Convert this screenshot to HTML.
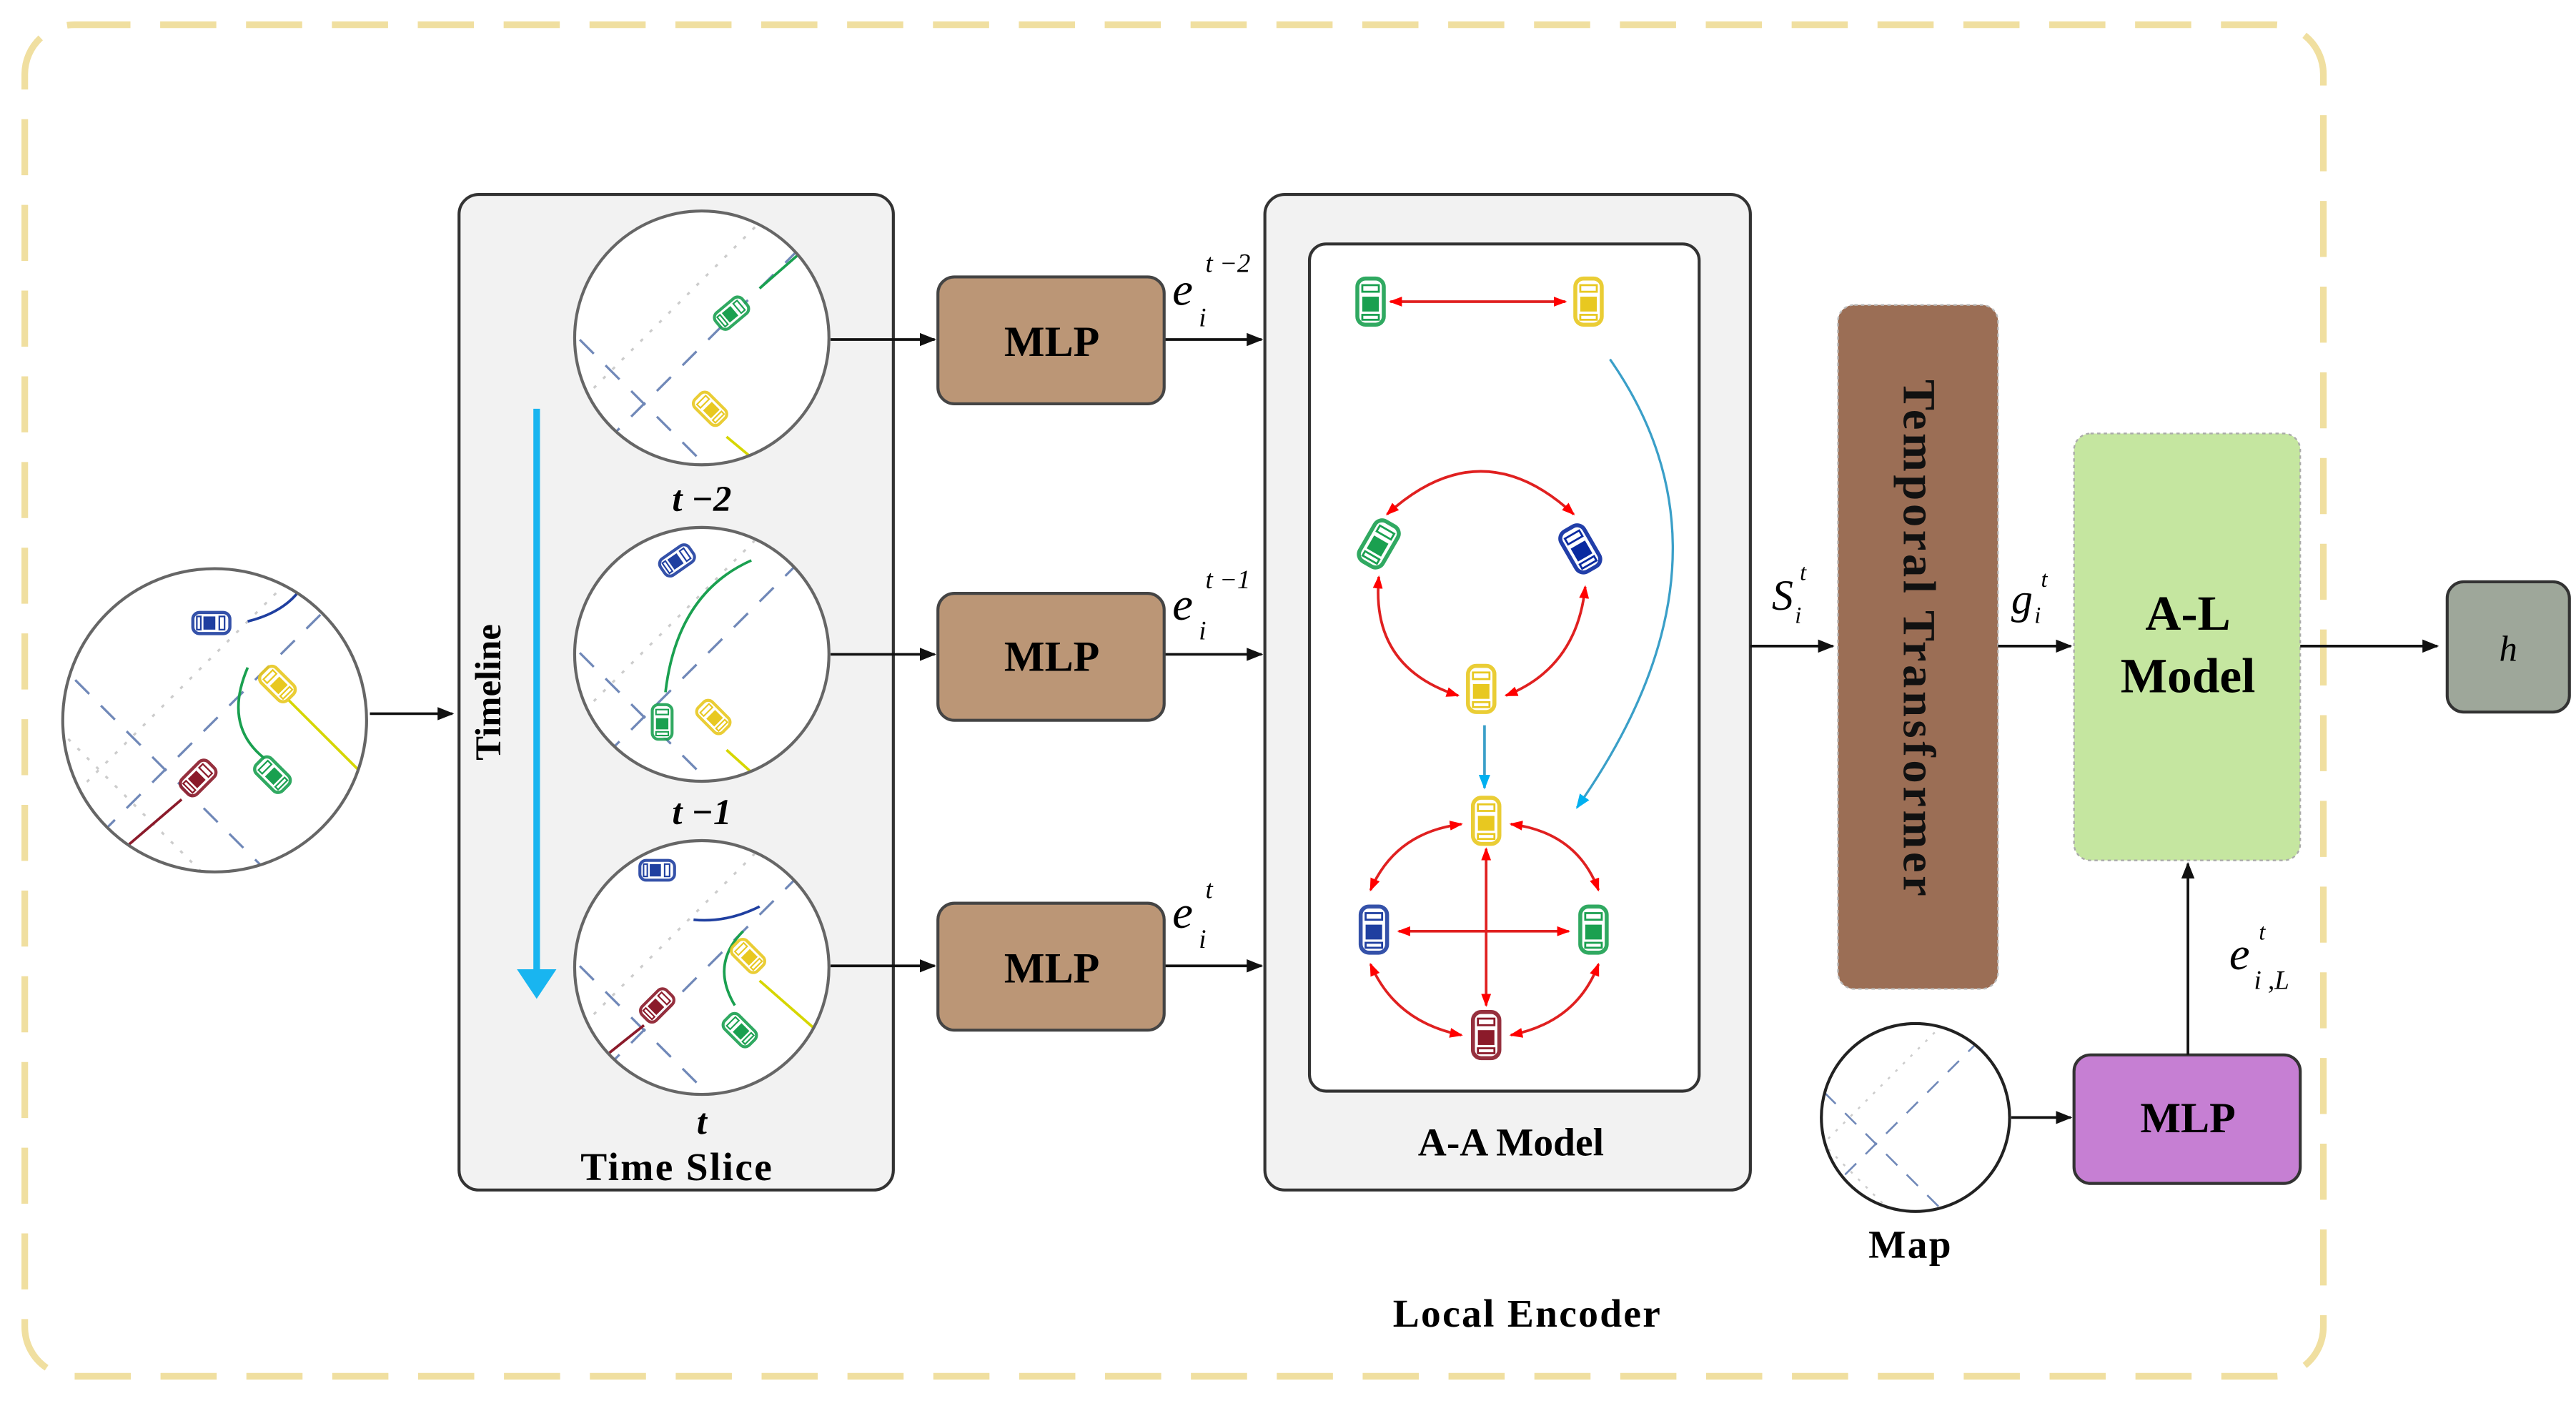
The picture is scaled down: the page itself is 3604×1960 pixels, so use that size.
<!DOCTYPE html>
<html><head><meta charset="utf-8"><style>
html,body{margin:0;padding:0;background:#fff}
svg{display:block}
text{font-family:"Liberation Serif",serif}
</style></head><body>
<svg width="3604" height="1960" viewBox="0 0 1560 850" preserveAspectRatio="none" xmlns="http://www.w3.org/2000/svg">
<defs>
<marker id="ab" markerWidth="10" markerHeight="8" refX="9" refY="4" orient="auto" markerUnits="userSpaceOnUse"><path d="M0,0 L10,4 L0,8 z" fill="#111"/></marker>
<marker id="ar" markerWidth="8" markerHeight="6" refX="7" refY="3" orient="auto-start-reverse" markerUnits="userSpaceOnUse"><path d="M0,0 L8,3 L0,6 z" fill="#f00"/></marker>
<marker id="abl" markerWidth="9" markerHeight="7" refX="8" refY="3.5" orient="auto" markerUnits="userSpaceOnUse"><path d="M0,0 L9,3.5 L0,7 z" fill="#00b0f0"/></marker>
<marker id="abig" markerWidth="18" markerHeight="24" refX="2" refY="12" orient="auto" markerUnits="userSpaceOnUse"><path d="M0,0 L18,12 L0,24 z" fill="#19b5f0"/></marker>
<symbol id="car" viewBox="-9 -15 18 30" overflow="visible">
<rect x="-8" y="-14" width="16" height="28" rx="5" fill="#fff" stroke="currentColor" stroke-width="2.4" opacity="0.9"/>
<rect x="-5" y="-3" width="10" height="9" fill="currentColor"/>
<rect x="-5" y="-10" width="10" height="4" fill="none" stroke="currentColor" stroke-width="1.2"/>
<rect x="-5" y="8" width="10" height="3" fill="none" stroke="currentColor" stroke-width="1.2"/>
</symbol>
<clipPath id="c0"><circle cx="130" cy="437" r="92"/></clipPath>
<clipPath id="c1"><circle cx="425" cy="205" r="77"/></clipPath>
<clipPath id="c2"><circle cx="425" cy="397" r="77"/></clipPath>
<clipPath id="c3"><circle cx="425" cy="587" r="77"/></clipPath>
<clipPath id="c4"><circle cx="1160" cy="678" r="57"/></clipPath>
<g id="lanes" stroke="#7088b8" stroke-width="1.4" fill="none">
<line x1="-100" y1="100" x2="100" y2="-100" stroke-dasharray="12,10"/>
<line x1="-100" y1="60" x2="60" y2="-100" stroke-dasharray="2,6" stroke="#ccc"/>
<line x1="-100" y1="-40" x2="60" y2="120" stroke-dasharray="12,10"/>
<line x1="-100" y1="0" x2="60" y2="160" stroke-dasharray="2,6" stroke="#ccc"/>
</g>
</defs>

<rect x="15" y="15" width="1392" height="820" rx="30" fill="none" stroke="#f0dfa0" stroke-width="4" stroke-dasharray="34,18"/>

<g clip-path="url(#c0)"><use href="#lanes" transform="translate(130,437)"/>
<path d="M180,360 Q170,372 150,377" stroke="#1f3fa0" stroke-width="1.6" fill="none"/>
<path d="M150,405 Q135,440 160,460" stroke="#1aa050" stroke-width="1.6" fill="none"/>
<line x1="175" y1="425" x2="220" y2="470" stroke="#d6d600" stroke-width="1.6"/>
<line x1="75" y1="515" x2="110" y2="485" stroke="#8b1a2a" stroke-width="1.6"/>
</g>
<circle cx="130" cy="437" r="92" fill="none" stroke="#666" stroke-width="1.8"/>
<use href="#car" x="-9" y="-15" width="18" height="30" transform="translate(128,378) rotate(90) scale(0.8)" style="color:#1f3fa0"/>
<use href="#car" x="-9" y="-15" width="18" height="30" transform="translate(168,415) rotate(-45) scale(0.8)" style="color:#e8c820"/>
<use href="#car" x="-9" y="-15" width="18" height="30" transform="translate(165,470) rotate(-45) scale(0.8)" style="color:#1aa050"/>
<use href="#car" x="-9" y="-15" width="18" height="30" transform="translate(120,472) rotate(45) scale(0.8)" style="color:#8b1a2a"/>
<line x1="224" y1="433" x2="274" y2="433" stroke="#111" stroke-width="1.6" marker-end="url(#ab)"/>

<rect x="278" y="118" width="263" height="604" rx="12" fill="#f2f2f2" stroke="#333" stroke-width="1.8"/>
<text transform="translate(303,420) rotate(-90)" font-size="22" font-weight="bold" text-anchor="middle">Timeline</text>
<line x1="325" y1="248" x2="325" y2="590" stroke="#19b5f0" stroke-width="4" marker-end="url(#abig)"/>

<g>
<circle cx="425" cy="205" r="77" fill="#fff"/>
<g clip-path="url(#c1)"><use href="#lanes" transform="translate(420,215)"/>
<line x1="500" y1="140" x2="460" y2="175" stroke="#1aa050" stroke-width="1.6"/>
<line x1="440" y1="265" x2="470" y2="290" stroke="#d6d600" stroke-width="1.6"/></g>
<circle cx="425" cy="205" r="77" fill="none" stroke="#666" stroke-width="1.8"/>
<use href="#car" x="-9" y="-15" width="18" height="30" transform="translate(443,190) rotate(50) scale(0.75)" style="color:#1aa050"/>
<use href="#car" x="-9" y="-15" width="18" height="30" transform="translate(430,248) rotate(-45) scale(0.75)" style="color:#e8c820"/>

<circle cx="425" cy="397" r="77" fill="#fff"/>
<g clip-path="url(#c2)"><use href="#lanes" transform="translate(420,405)"/>
<path d="M455,340 Q410,360 403,420" stroke="#1aa050" stroke-width="1.6" fill="none"/>
<line x1="440" y1="455" x2="470" y2="482" stroke="#d6d600" stroke-width="1.6"/></g>
<circle cx="425" cy="397" r="77" fill="none" stroke="#666" stroke-width="1.8"/>
<use href="#car" x="-9" y="-15" width="18" height="30" transform="translate(410,340) rotate(55) scale(0.75)" style="color:#1f3fa0"/>
<use href="#car" x="-9" y="-15" width="18" height="30" transform="translate(401,438) scale(0.75)" style="color:#1aa050"/>
<use href="#car" x="-9" y="-15" width="18" height="30" transform="translate(432,435) rotate(-45) scale(0.75)" style="color:#e8c820"/>

<circle cx="425" cy="587" r="77" fill="#fff"/>
<g clip-path="url(#c3)"><use href="#lanes" transform="translate(420,595)"/>
<path d="M460,550 Q440,560 420,558" stroke="#1f3fa0" stroke-width="1.6" fill="none"/>
<path d="M450,565 Q430,585 445,610" stroke="#1aa050" stroke-width="1.6" fill="none"/>
<line x1="460" y1="595" x2="500" y2="630" stroke="#d6d600" stroke-width="1.6"/>
<line x1="355" y1="650" x2="390" y2="622" stroke="#8b1a2a" stroke-width="1.6"/></g>
<circle cx="425" cy="587" r="77" fill="none" stroke="#666" stroke-width="1.8"/>
<use href="#car" x="-9" y="-15" width="18" height="30" transform="translate(398,528) rotate(90) scale(0.75)" style="color:#1f3fa0"/>
<use href="#car" x="-9" y="-15" width="18" height="30" transform="translate(453,580) rotate(-45) scale(0.75)" style="color:#e8c820"/>
<use href="#car" x="-9" y="-15" width="18" height="30" transform="translate(448,625) rotate(-45) scale(0.75)" style="color:#1aa050"/>
<use href="#car" x="-9" y="-15" width="18" height="30" transform="translate(398,610) rotate(45) scale(0.75)" style="color:#8b1a2a"/>
</g>
<text x="425" y="310" font-size="22" font-weight="bold" font-style="italic" text-anchor="middle">t −2</text>
<text x="425" y="500" font-size="22" font-weight="bold" font-style="italic" text-anchor="middle">t −1</text>
<text x="425" y="688" font-size="22" font-weight="bold" font-style="italic" text-anchor="middle">t</text>
<text x="410" y="716" font-size="24" font-weight="bold" text-anchor="middle" letter-spacing="1">Time Slice</text>

<g stroke="#111" stroke-width="1.6" marker-end="url(#ab)">
<line x1="503" y1="206" x2="566" y2="206"/><line x1="503" y1="397" x2="566" y2="397"/><line x1="503" y1="586" x2="566" y2="586"/>
<line x1="705" y1="206" x2="764" y2="206"/><line x1="705" y1="397" x2="764" y2="397"/><line x1="705" y1="586" x2="764" y2="586"/>
</g>
<g fill="#bb9676" stroke="#444" stroke-width="1.8">
<rect x="568" y="168" width="137" height="77" rx="10"/>
<rect x="568" y="360" width="137" height="77" rx="10"/>
<rect x="568" y="548" width="137" height="77" rx="10"/>
</g>
<g font-size="26" font-weight="bold" text-anchor="middle"><text x="637" y="216">MLP</text><text x="637" y="407">MLP</text><text x="637" y="596">MLP</text></g>
<g font-size="28" font-style="italic"><text x="710" y="185">e</text><text x="710" y="376">e</text><text x="710" y="563">e</text></g>
<g font-size="16" font-style="italic"><text x="726" y="198">i</text><text x="726" y="388">i</text><text x="726" y="575">i</text>
<text x="730" y="165">t −2</text><text x="730" y="357">t −1</text><text x="730" y="545">t</text></g>

<rect x="766" y="118" width="294" height="604" rx="12" fill="#f2f2f2" stroke="#333" stroke-width="1.8"/>
<rect x="793" y="148" width="236" height="514" rx="10" fill="#fff" stroke="#333" stroke-width="1.8"/>
<text x="915" y="701" font-size="24" font-weight="bold" text-anchor="middle">A-A Model</text>

<g stroke="#e02020" stroke-width="1.6" fill="none">
<line x1="842" y1="183" x2="948" y2="183" marker-start="url(#ar)" marker-end="url(#ar)"/>
<path d="M840,312 Q897,260 953,312" marker-start="url(#ar)" marker-end="url(#ar)"/>
<path d="M835,350 Q830,405 883,422" marker-start="url(#ar)" marker-end="url(#ar)"/>
<path d="M960,356 Q955,405 912,422" marker-start="url(#ar)" marker-end="url(#ar)"/>
<path d="M885,500 Q845,505 830,540" marker-start="url(#ar)" marker-end="url(#ar)"/>
<path d="M915,500 Q955,505 968,540" marker-start="url(#ar)" marker-end="url(#ar)"/>
<path d="M830,585 Q845,620 885,628" marker-start="url(#ar)" marker-end="url(#ar)"/>
<path d="M968,585 Q955,620 915,628" marker-start="url(#ar)" marker-end="url(#ar)"/>
<line x1="847" y1="565" x2="950" y2="565" marker-start="url(#ar)" marker-end="url(#ar)"/>
<line x1="900" y1="515" x2="900" y2="610" marker-start="url(#ar)" marker-end="url(#ar)"/>
</g>
<line x1="899" y1="440" x2="899" y2="478" stroke="#3a9fc8" stroke-width="1.6" marker-end="url(#abl)"/>
<path d="M975,218 Q1060,340 955,490" stroke="#3a9fc8" stroke-width="1.4" fill="none" marker-end="url(#abl)"/>
<use href="#car" x="-9" y="-15" width="18" height="30" transform="translate(830,183)" style="color:#1aa050"/>
<use href="#car" x="-9" y="-15" width="18" height="30" transform="translate(962,183)" style="color:#e8c820"/>
<use href="#car" x="-9" y="-15" width="18" height="30" transform="translate(835,330) rotate(30)" style="color:#1aa050"/>
<use href="#car" x="-9" y="-15" width="18" height="30" transform="translate(957,333) rotate(-30)" style="color:#0a2aa0"/>
<use href="#car" x="-9" y="-15" width="18" height="30" transform="translate(897,418)" style="color:#e8c820"/>
<use href="#car" x="-9" y="-15" width="18" height="30" transform="translate(900,498)" style="color:#e8c820"/>
<use href="#car" x="-9" y="-15" width="18" height="30" transform="translate(832,564)" style="color:#1f3fa0"/>
<use href="#car" x="-9" y="-15" width="18" height="30" transform="translate(965,564)" style="color:#1aa050"/>
<use href="#car" x="-9" y="-15" width="18" height="30" transform="translate(900,628)" style="color:#8b1a2a"/>

<line x1="1060" y1="392" x2="1110" y2="392" stroke="#111" stroke-width="1.6" marker-end="url(#ab)"/>
<text x="1073" y="370" font-size="26" font-style="italic">S</text><text x="1087" y="378" font-size="14" font-style="italic">i</text><text x="1090" y="352" font-size="14" font-style="italic">t</text>
<rect x="1113" y="185" width="97" height="415" rx="10" fill="#9b6e55" stroke="#bbb" stroke-width="1" stroke-dasharray="2,2"/>
<text transform="translate(1153,388) rotate(90)" font-size="28" font-weight="bold" text-anchor="middle" letter-spacing="2" fill="#111">Temporal Transformer</text>
<line x1="1210" y1="392" x2="1254" y2="392" stroke="#111" stroke-width="1.6" marker-end="url(#ab)"/>
<text x="1218" y="372" font-size="26" font-style="italic">g</text><text x="1232" y="378" font-size="14" font-style="italic">i</text><text x="1236" y="356" font-size="14" font-style="italic">t</text>

<rect x="1256" y="263" width="137" height="259" rx="10" fill="#c5e6a0" stroke="#aaa" stroke-width="1" stroke-dasharray="2,2"/>
<text x="1325" y="382" font-size="30" font-weight="bold" text-anchor="middle">A-L</text>
<text x="1325" y="420" font-size="30" font-weight="bold" text-anchor="middle">Model</text>
<line x1="1393" y1="392" x2="1476" y2="392" stroke="#111" stroke-width="1.6" marker-end="url(#ab)"/>
<rect x="1482" y="353" width="74" height="79" rx="10" fill="#9ea79a" stroke="#333" stroke-width="1.8"/>
<text x="1519" y="401" font-size="22" font-style="italic" text-anchor="middle">h</text>

<circle cx="1160" cy="678" r="57" fill="#fff"/>
<g clip-path="url(#c4)"><use href="#lanes" transform="translate(1160,670) scale(0.8)"/></g>
<circle cx="1160" cy="678" r="57" fill="none" stroke="#222" stroke-width="1.8"/>
<text x="1157" y="763" font-size="24" font-weight="bold" text-anchor="middle" letter-spacing="1">Map</text>
<line x1="1218" y1="678" x2="1254" y2="678" stroke="#111" stroke-width="1.6" marker-end="url(#ab)"/>
<rect x="1256" y="640" width="137" height="78" rx="10" fill="#c67fd3" stroke="#333" stroke-width="1.8"/>
<text x="1325" y="687" font-size="26" font-weight="bold" text-anchor="middle">MLP</text>
<line x1="1325" y1="640" x2="1325" y2="524" stroke="#111" stroke-width="1.6" marker-end="url(#ab)"/>
<text x="1350" y="588" font-size="28" font-style="italic">e</text><text x="1365" y="600" font-size="16" font-style="italic">i ,L</text><text x="1368" y="570" font-size="14" font-style="italic">t</text>

<text x="925" y="805" font-size="24" font-weight="bold" text-anchor="middle" letter-spacing="1">Local Encoder</text>
</svg>
</body></html>
